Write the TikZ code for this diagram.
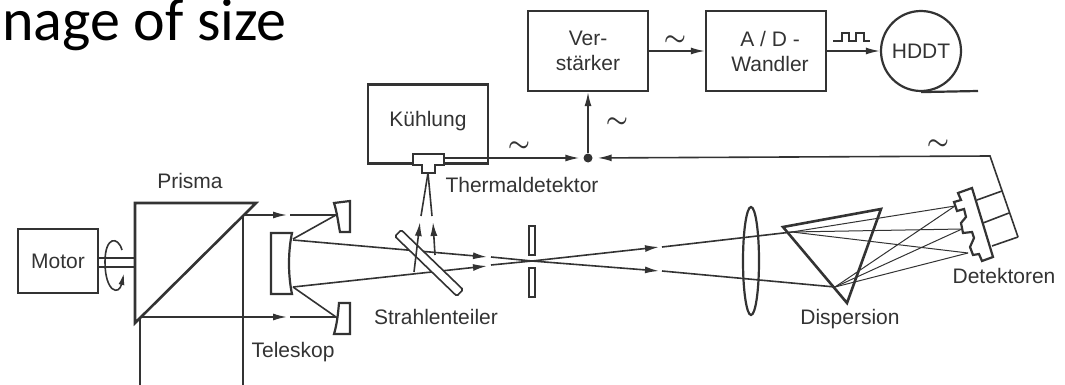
\documentclass[tikz,border=0pt]{standalone}
\usepackage{fontspec}
\setmainfont{Liberation Sans}
\newfontfamily\titlefont{Carlito}
\usetikzlibrary{arrows.meta}
\tikzset{
  blockbox/.style={draw=cInk,line width=2.2pt,inner sep=0pt,align=center,text=cText,font=\fontsize{21}{25}\selectfont},
  plainlabel/.style={inner sep=0pt,text=cText,font=\fontsize{21}{25}\selectfont},
  signal/.style={draw=cInk,line width=1.6pt,->},
  ray/.style={draw=cInk,line width=1.6pt},
  thinray/.style={draw=cInk,line width=1pt},
  optic/.style={draw=cInk,line width=2.2pt,line join=miter},
  wavemark/.style={inner sep=0pt,text=cInk,font=\fontsize{24.88}{25}\selectfont\boldmath}
}
\begin{document}
\begin{tikzpicture}[x=1pt,y=-1pt,>={Latex[length=14pt,width=7pt]}]

% colors
\definecolor{cInk}{gray}{0.2}
\definecolor{cText}{gray}{0.2}

\useasboundingbox (0,0) rectangle (1065,385);

% heading
\node[anchor=base east,inner sep=0pt,font=\titlefont\fontsize{60}{60}\selectfont] (heading) at (287,41) {nage of size};

% boxes
\node[blockbox,minimum width=80pt,minimum height=64pt] (motor) at (58,261) {Motor};
\node[blockbox,minimum width=120pt,minimum height=80pt] (verst) at (588,51) {Ver-\\stärker};
\node[blockbox,minimum width=120pt,minimum height=80pt] (wandler) at (766,51) {\hspace*{8pt}A / D -\\\hspace*{8pt}Wandler};
\node[blockbox,circle,minimum size=80pt] (hddt) at (921,51) {HDDT};
\node[blockbox,minimum width=120pt,minimum height=79pt] (cool) at (428,124) {};
\node[plainlabel] (coollabel) at (428,121) {Kühlung};
\coordinate (tapeend) at (978,91);
\draw[optic] (hddt.south) -- (tapeend);

% thermal detector
\draw[optic,fill=white] (413,154) -- (444,154) -- (444,165) -- (435,165) -- (435,173)
  -- (422,173) -- (422,165) -- (413,165) -- cycle;
\coordinate (thermout) at (444,158);
\coordinate (thermbase) at (428,173);

% junction and signal lines
\node[circle,fill=cInk,inner sep=0pt,minimum size=9pt] (junc) at (588,158) {};
\coordinate (busknee) at (990,156);
\coordinate (busfoot) at (1018,237);
\draw[signal,shorten >=4pt] (thermout) -- (junc);
\draw[signal,shorten >=5pt] (busfoot) -- (busknee) -- (junc);
\draw[signal] (junc) -- (verst.south);
\draw[signal] (verst.east) -- (wandler.west);
\draw[signal] (wandler.east) -- (hddt.west);

% signal marks
\foreach \n/\x/\y in {a/675/41,b/617/123,c/519/147,d/938/145}{
  \node[wavemark] (wave\n) at (\x,\y) {$\sim$};
}
\draw[draw=cInk,line width=1.6pt] (833,41) -- (842,41) -- (842,33) -- (849,33) -- (849,41)
  -- (856,41) -- (856,33) -- (864,33) -- (864,41) -- (870,41);

% prism with motor shaft
\draw[optic,line width=2.6pt] (135,203) -- (256,203) -- (135,323) -- cycle;
\coordinate (shaftA) at (135,258);
\coordinate (shaftB) at (135,267);
\draw[ray] (motor.east |- shaftA) -- (shaftA);
\draw[ray] (motor.east |- shaftB) -- (shaftB);
\draw[ray,->,>={Latex[length=12pt,width=6pt]}] (122,250) .. controls (118,236) and (105,236) .. (105,262)
  .. controls (105,292) and (119,296) .. (124,273);

% outer beams
\coordinate (prismtop) at (243,215);
\coordinate (prismlow) at (140,317);
\draw[ray] (prismtop) -- (243,385);
\draw[ray] (prismlow) -- (140,385);
\draw[ray,->] (prismtop) -- (287,215);
\draw[ray,->] (prismlow) -- (287,317);
\draw[ray] (290,215) -- (336,215) -- (293,239);
\draw[ray] (290,317) -- (336,317) -- (293,287);

% telescope mirrors
\draw[optic,fill=white] (334,203) -- (350,201) -- (350,232) -- (340,232) .. controls (338,222) and (337,212) .. cycle;
\draw[optic,fill=white] (339,303) -- (350,303) -- (350,334) -- (334,334) .. controls (337,324) and (338,314) .. cycle;
\draw[optic,fill=white] (271,233) -- (292,233) .. controls (288,252) and (288,275) .. (292,294) -- (271,294) -- cycle;

% main beams through the slit
\coordinate (focus) at (532,261);
\coordinate (prismA) at (792,232);
\coordinate (prismB) at (835,287);
\draw[ray,->] (293,240) -- (487,257);
\draw[ray] (491,257) -- (focus);
\draw[ray,->] (293,287) -- (487,266);
\draw[ray] (491,265) -- (focus);
\draw[ray,->] (focus) -- (659,247);
\draw[ray] (662,247) -- (prismA);
\draw[ray,->] (focus) -- (659,271);
\draw[ray] (662,271) -- (prismB);

% beam splitter
\draw[ray,fill=white,rounded corners=1.5pt,rotate around={-44:(429,263)}] (386,258.5) rectangle (472,267.5);
\draw[ray,->] (414,272) -- (420,222);
\draw[ray,->] (435,255) -- (433,222);
\draw[ray] (421,216) -- (thermbase);
\draw[ray] (432,216) -- (thermbase);

% slit
\draw[ray,fill=white] (529,226) rectangle (535,255);
\draw[ray,fill=white] (529,268) rectangle (535,297);

% lens
\draw[optic] (751,261) ellipse (8 and 54);

% dispersion prism
\draw[optic,line width=2.6pt] (783,227) -- (881,209) -- (847,303) -- cycle;

% detector rays
\coordinate (detA) at (955,206);
\coordinate (detB) at (962,229);
\coordinate (detC) at (968,253);
\foreach \d in {detA,detB,detC}{
  \draw[thinray] (prismA) -- (\d);
  \draw[thinray] (prismB) -- (\d);
}

% detectors
\draw[optic,fill=white] (958,193) -- (961,200) -- (954,202) -- (957,211) -- (964,209) -- (966,217)
  -- (961,223) -- (963,233) -- (972,232) -- (974,238) -- (970,247) -- (973,255) -- (979,254)
  -- (982,261) -- (993,257) -- (972,188) -- cycle;
\draw[ray] (977,200) -- (1002,191);
\draw[ray] (983,223) -- (1009,213);
\draw[ray] (992,246) -- (busfoot);

% labels
\node[plainlabel] (prismlabel) at (190,181) {Prisma};
\node[plainlabel] (telelabel) at (293,352) {Teleskop};
\node[plainlabel] (thermlabel) at (522,185) {Thermaldetektor};
\node[plainlabel] (splitlabel) at (436,317) {Strahlenteiler};
\node[plainlabel] (displabel) at (850,319) {Dispersion};
\node[plainlabel] (detlabel) at (1004,276) {Detektoren};

\end{tikzpicture}
\end{document}
